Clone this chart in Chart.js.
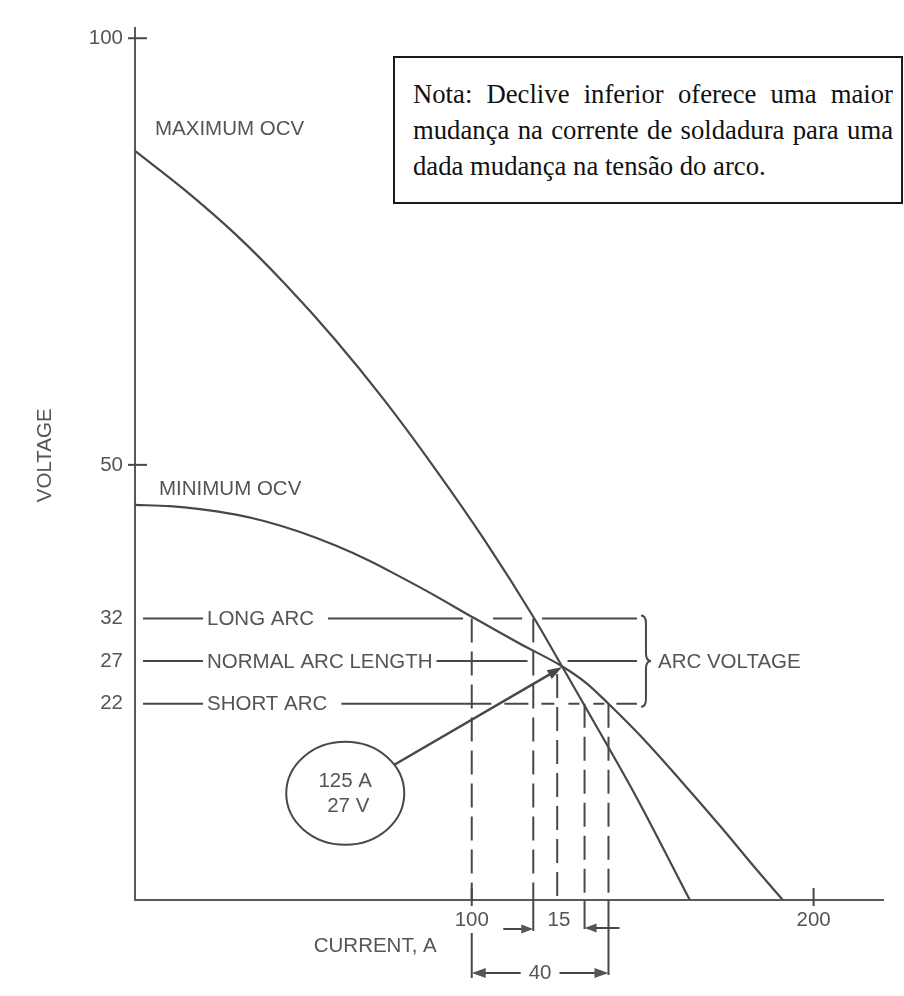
<!DOCTYPE html>
<html lang="pt">
<head>
<meta charset="utf-8">
<title>Tensão vs corrente - OCV</title>
<script src="https://cdn.jsdelivr.net/npm/chart.js@4.4.1/dist/chart.umd.min.js"></script>
<style>
  html, body { margin: 0; padding: 0; background: #fff; }
  #wrap { position: relative; width: 904px; height: 996px; overflow: hidden; background: #fff; }
  #chart { position: absolute; left: 0; top: 0; }
  #note {
    position: absolute; left: 393px; top: 56px; width: 510px; height: 148px;
    box-sizing: border-box; border: 2px solid #1a1a1a; background: #fff;
    padding: 18px 8px 0 18px;
    font: 26.7px/36px "Liberation Serif", "Times New Roman", serif;
    color: #111; text-align: justify;
  }
</style>
</head>
<body>
<div id="wrap">
  <canvas id="chart" width="904" height="996"></canvas>
  <div id="note">Nota: Declive inferior oferece uma maior mudança na corrente de soldadura para uma dada mudança na tensão do arco.</div>
</div>
<script>
// ---------- data ----------
const currentTicks = [100, 200];
const voltageTicks = [100, 50, 32, 27, 22];

const maxOcvCurrent = [1.5, 16.1, 30.7, 45.4, 60.0, 74.6, 89.2, 103.9, 118, 126.4, 133.7, 147.7, 163.8];
const maxOcvVoltage = [86.8, 82.2, 77.1, 71.2, 64.7, 57.5, 49.6, 41.1, 32.2, 26.4, 21.3, 11.4, -1];

const minOcvCurrent = [1.5, 11.7, 20.5, 30.7, 39.5, 49.8, 60, 70.2, 79, 87.8, 100, 114.1, 126.4, 133.6, 140, 149.2, 160.9, 172.6, 184.3, 191];
const minOcvVoltage = [45.3, 45.16, 44.82, 44.19, 43.39, 42.13, 40.57, 38.74, 36.9, 35.0, 32.2, 29.03, 26.4, 24.4, 22, 18.3, 13.1, 7.7, 2.1, -1];

const arcVoltages = [32, 27, 22];
const arcNames = ['LONG ARC', 'NORMAL ARC LENGTH', 'SHORT ARC'];
const arcCurrents = [100, 118, 125, 133, 140];
const arcCurrentTops = [32, 32, 25.5, 22, 22];

const operatingCurrent = 125;
const operatingVoltage = 27;
const calloutCurrent = 63;
const calloutVoltage = 11.5;
const bracketCurrent = 149.5;

const currentRange = [1.5, 220.3];
const voltageRange = [-1, 101.2];

// ---------- styles ----------
const INK = '#484848';
const AXIS = '#5a5a5a';
const TXT = '#555555';
const FAMILY = '"Liberation Sans", Arial, Helvetica, sans-serif';
const FONT = '20.5px ' + FAMILY;

function seg(ctx, x1, y1, x2, y2) {
  ctx.beginPath(); ctx.moveTo(x1, y1); ctx.lineTo(x2, y2); ctx.stroke();
}
function arrow(ctx, fx, fy, tx, ty, len, half) {
  const a = Math.atan2(ty - fy, tx - fx);
  const c = Math.cos(a), s = Math.sin(a);
  seg(ctx, fx, fy, tx - len * 0.6 * c, ty - len * 0.6 * s);
  ctx.beginPath();
  ctx.moveTo(tx, ty);
  ctx.lineTo(tx - len * c + half * s, ty - len * s - half * c);
  ctx.lineTo(tx - len * c - half * s, ty - len * s + half * c);
  ctx.closePath();
  ctx.fill();
}

const annotations = {
  id: 'annotations',
  afterDatasetsDraw(chart) {
    const { ctx, chartArea: ca, scales: { x, y } } = chart;
    const X = v => x.getPixelForValue(v);
    const Y = v => y.getPixelForValue(v);
    const b = ca.bottom;
    ctx.save();
    ctx.strokeStyle = INK;
    ctx.fillStyle = TXT;
    ctx.lineWidth = 2;
    ctx.font = FONT;

    // tick marks crossing the axes
    voltageTicks.filter(v => !arcVoltages.includes(v))
      .forEach(v => seg(ctx, ca.left - 7, Y(v), ca.left + 12, Y(v)));
    currentTicks.forEach(v => seg(ctx, X(v), b - 12, X(v), b + 6));

    // curve names
    ctx.textAlign = 'left';
    ctx.textBaseline = 'middle';
    ctx.fillText('MAXIMUM OCV', ca.left + 20, Y(maxOcvVoltage[0]) - 22);
    ctx.fillText('MINIMUM OCV', ca.left + 24, Y(minOcvVoltage[0]) - 16);

    // arc voltage levels
    const bx = X(bracketCurrent);
    const gaps = [14, 4, 14];
    const dashes = [[135, 30, 29, 20, 400], [91, 40, 400],
                    [150, 13, 24, 13, 13, 14, 11, 14, 11, 12, 400]];
    arcVoltages.forEach((v, i) => {
      const yy = Y(v);
      ctx.setLineDash([]);
      seg(ctx, ca.left + 8, yy, ca.left + 68, yy);
      ctx.fillText(arcNames[i], ca.left + 72, yy + 1);
      const sx = ca.left + 72 + ctx.measureText(arcNames[i]).width + gaps[i];
      ctx.setLineDash(dashes[i]);
      seg(ctx, sx, yy, bx - 4, yy);
    });
    ctx.setLineDash([]);

    // bracket
    const yt = Y(arcVoltages[0]) - 3, ym = Y(arcVoltages[1]), yb = Y(arcVoltages[2]) + 3;
    ctx.beginPath();
    ctx.moveTo(bx, yt);
    ctx.quadraticCurveTo(bx + 5, yt, bx + 5, yt + 8);
    ctx.lineTo(bx + 5, ym - 8);
    ctx.quadraticCurveTo(bx + 5, ym, bx + 10, ym);
    ctx.quadraticCurveTo(bx + 5, ym, bx + 5, ym + 8);
    ctx.lineTo(bx + 5, yb - 8);
    ctx.quadraticCurveTo(bx + 5, yb, bx, yb);
    ctx.stroke();
    ctx.fillText('ARC VOLTAGE', bx + 17, ym + 1);

    // vertical dashed current lines
    ctx.setLineDash([24, 9]);
    arcCurrents.forEach((c, i) => seg(ctx, X(c), Y(arcCurrentTops[i]), X(c), b));
    ctx.setLineDash([]);

    // dimension lines below axis
    const [c100, c118, , c133, c140] = arcCurrents;
    ctx.textAlign = 'center';
    seg(ctx, X(c118), b, X(c118), b + 31);
    seg(ctx, X(c133), b, X(c133), b + 29);
    arrow(ctx, X(c118) - 30, b + 29, X(c118), b + 29, 12, 4.5);
    arrow(ctx, X(c133) + 35, b + 28, X(c133), b + 28, 12, 4.5);
    ctx.fillText(String(c133 - c118), (X(c118) + X(c133)) / 2, b + 20);

    seg(ctx, X(c100), b + 33, X(c100), b + 78);
    seg(ctx, X(c140), b, X(c140), b + 75);
    const lbl = String(c140 - c100);
    const mid = (X(c100) + X(c140)) / 2;
    const hw = ctx.measureText(lbl).width / 2 + 8;
    arrow(ctx, mid - hw, b + 73, X(c100), b + 73, 14, 5);
    arrow(ctx, mid + hw, b + 73, X(c140), b + 73, 14, 5);
    ctx.fillText(lbl, mid, b + 73);

    // axis titles
    ctx.save();
    ctx.translate(ca.left - 90, ca.top + (ca.bottom - ca.top) * 0.49);
    ctx.rotate(-Math.PI / 2);
    ctx.textAlign = 'center';
    ctx.fillText('VOLTAGE', 0, 0);
    ctx.restore();
    ctx.textAlign = 'right';
    ctx.fillText('CURRENT, A', X(currentTicks[0]) - 35, b + 46);

    // callout ellipse + arrow
    const cx = X(calloutCurrent), cy = Y(calloutVoltage);
    const rx = 59, ry = 51.5;
    ctx.beginPath();
    ctx.ellipse(cx, cy, rx, ry, 0, 0, Math.PI * 2);
    ctx.stroke();
    ctx.textAlign = 'center';
    ctx.fillText(operatingCurrent + ' A', cx, cy - 12.5);
    ctx.fillText(operatingVoltage + ' V', cx + 3, cy + 12.5);
    const tx = X(operatingCurrent) + 5, ty = Y(operatingVoltage) + 6;
    const dx = tx - cx, dy = ty - cy;
    const t = 1 / Math.sqrt((dx / rx) ** 2 + (dy / ry) ** 2);
    ctx.lineWidth = 2.5;
    ctx.fillStyle = INK;
    arrow(ctx, cx + dx * t, cy + dy * t, tx, ty, 15, 5);

    ctx.restore();
  }
};

const toPoints = (xs, ys) => xs.map((c, i) => ({ x: c, y: ys[i] }));

new Chart(document.getElementById('chart'), {
  type: 'line',
  data: {
    datasets: [
      { label: 'MAXIMUM OCV', data: toPoints(maxOcvCurrent, maxOcvVoltage),
        borderColor: INK, borderWidth: 2.2, pointRadius: 0, fill: false,
        cubicInterpolationMode: 'monotone' },
      { label: 'MINIMUM OCV', data: toPoints(minOcvCurrent, minOcvVoltage),
        borderColor: INK, borderWidth: 2.2, pointRadius: 0, fill: false,
        cubicInterpolationMode: 'monotone' }
    ]
  },
  options: {
    responsive: false,
    animation: false,
    devicePixelRatio: 1,
    layout: { padding: { top: 28, right: 21, left: 0, bottom: 0 } },
    plugins: { legend: { display: false }, tooltip: { enabled: false }, title: { display: false } },
    scales: {
      x: {
        type: 'linear', min: currentRange[0], max: currentRange[1],
        grid: { display: false, drawTicks: false },
        border: { display: true, color: AXIS, width: 2 },
        afterBuildTicks: s => { s.ticks = currentTicks.map(v => ({ value: v })); },
        afterFit: s => { s.height = 96; },
        ticks: { color: TXT, font: { family: FAMILY, size: 20.5 }, padding: 8,
                 maxRotation: 0, autoSkip: false }
      },
      y: {
        type: 'linear', min: voltageRange[0], max: voltageRange[1],
        grid: { display: false, drawTicks: false },
        border: { display: true, color: AXIS, width: 2 },
        afterBuildTicks: s => { s.ticks = voltageTicks.map(v => ({ value: v })); },
        afterFit: s => { s.width = 135; },
        ticks: { color: TXT, font: { family: FAMILY, size: 20.5 }, padding: 12, autoSkip: false }
      }
    }
  },
  plugins: [annotations]
});
</script>
</body>
</html>
